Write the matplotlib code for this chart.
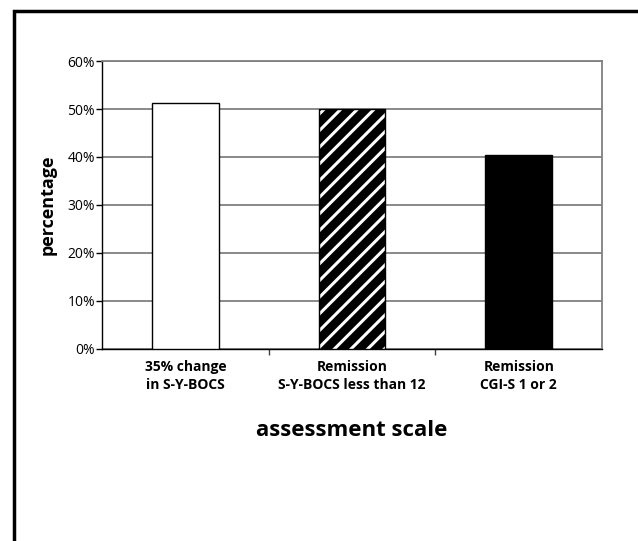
import numpy as np
import matplotlib
matplotlib.use('Agg')
import matplotlib.pyplot as plt
from matplotlib.patches import Rectangle
from matplotlib.ticker import FixedLocator, PercentFormatter

# data
categories = ['35% change\nin S-Y-BOCS', 'Remission\nS-Y-BOCS less than 12', 'Remission\nCGI-S 1 or 2']
values = [51.3, 50.0, 40.4]
fills = ['white', 'black', 'black']
hatches = ['', '//', '']
yticks = [0, 10, 20, 30, 40, 50, 60]

plt.rcParams['font.family'] = ['Open Sans', 'DejaVu Sans']
plt.rcParams['hatch.linewidth'] = 2.2

fig = plt.figure(figsize=(6.38, 5.41), dpi=100)
ax = fig.add_axes([0.16, 0.355, 0.7836, 0.5322])

x = np.arange(len(categories))
for i in range(len(categories)):
    if hatches[i]:
        # hatch colour follows the edge colour, so draw white stripes first
        ax.bar(x[i], values[i], width=0.4, color=fills[i], hatch=hatches[i],
               edgecolor='white', linewidth=0, zorder=3)
        ax.bar(x[i], values[i], width=0.4, fill=False,
               edgecolor='black', linewidth=1.0, zorder=4)
    else:
        ax.bar(x[i], values[i], width=0.4, color=fills[i],
               edgecolor='black', linewidth=1.0, zorder=3)

ax.set_xlim(-0.5, len(categories) - 0.5)
ax.set_ylim(0, 60)
ax.set_yticks(yticks)
ax.yaxis.set_major_formatter(PercentFormatter(decimals=0))
ax.grid(axis='y', color='#808080', linewidth=1.3, zorder=0)

ax.set_xticks(x)
ax.set_xticklabels(categories, fontsize=10, fontweight='bold', linespacing=1.4)
ax.tick_params(axis='x', which='major', length=0, pad=8)
ax.xaxis.set_minor_locator(FixedLocator([0.5, 1.5]))
ax.tick_params(axis='x', which='minor', length=4, width=1, color='#404040', direction='out')
ax.tick_params(axis='y', length=4, width=1, direction='out', labelsize=10, pad=1)

for s in ['top', 'right']:
    ax.spines[s].set_color('#808080')
    ax.spines[s].set_linewidth(1.3)
for s in ['left', 'bottom']:
    ax.spines[s].set_color('black')
    ax.spines[s].set_linewidth(1.0)

ax.set_ylabel('percentage', fontsize=13, fontweight='bold', labelpad=8)
ax.set_xlabel('assessment scale', fontsize=16, fontweight='bold', labelpad=20)

# outer frame, cut off at the right and bottom like the source
fig.patches.append(Rectangle((14 / 638, -0.1), 1.2, 1 - 11 / 541 + 0.1,
                             transform=fig.transFigure, fill=False,
                             edgecolor='black', linewidth=2.5))

fig.savefig('out.png', dpi=100)
